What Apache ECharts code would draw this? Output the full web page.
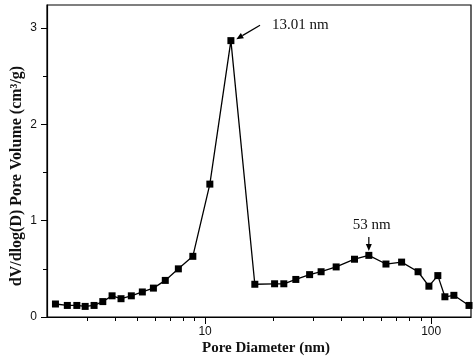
<!DOCTYPE html>
<html>
<head>
<meta charset="utf-8">
<script src="https://cdn.jsdelivr.net/npm/echarts@6/dist/echarts.min.js"></script>
<style>html,body{margin:0;padding:0;background:#fff}#c{width:474px;height:361px}</style>
</head>
<body>
<div id="c"></div>
<script>
// Pore diameter (nm)
var diameters = [2.18, 2.46, 2.71, 2.95, 3.23, 3.53, 3.88, 4.25, 4.72, 5.28, 5.91, 6.67, 7.62, 8.83,
  10.5, 13.01, 16.6, 20.3, 22.3, 25.2, 29.0, 32.6, 38.0, 45.8, 53.0, 63.1, 74.0, 87.5, 97.7, 107, 115, 126, 147];
// dV/dlog(D) pore volume (cm3/g)
var volumes = [0.135, 0.12, 0.12, 0.11, 0.12, 0.16, 0.22, 0.19, 0.22, 0.26, 0.30, 0.38, 0.50, 0.63,
  1.38, 2.87, 0.34, 0.345, 0.345, 0.39, 0.44, 0.47, 0.52, 0.60, 0.64, 0.55, 0.57, 0.47, 0.32, 0.43, 0.21, 0.225, 0.12];
var xMajorTicks = [10, 100];
var xMinorTicks = [3, 4, 5, 6, 7, 8, 9, 20, 30, 40, 50, 60, 70, 80, 90];
var yTicks = [0, 1, 2, 3];
// annotation arrows: [from, to] in data coordinates
var arrows = [
  [[17.5, 3.03], [13.75, 2.885]],
  [[53.0, 0.83], [53.0, 0.685]]
];

var serif = '"Liberation Serif","Times New Roman",serif';
var sans = '"Liberation Sans",Arial,sans-serif';

var chart = echarts.init(document.getElementById('c'), null, {renderer: 'canvas'});
var data = diameters.map(function (d, i) { return [d, volumes[i]]; });

chart.setOption({
  animation: false,
  backgroundColor: '#fff',
  grid: {left: 47, top: 5, right: 3, bottom: 44, show: true, borderColor: '#000', borderWidth: 1.2, containLabel: false},
  xAxis: [{
    type: 'log', logBase: 10, min: 2, max: 150,
    axisLine: {show: true, onZero: false, lineStyle: {color: '#000', width: 1.2}},
    axisTick: {show: true, inside: false, length: 7, customValues: xMajorTicks, lineStyle: {color: '#000', width: 1}},
    axisLabel: {show: true, customValues: xMajorTicks, margin: 9, color: '#111', fontFamily: sans, fontSize: 12},
    splitLine: {show: false}
  }, {
    type: 'log', logBase: 10, min: 2, max: 150, position: 'bottom',
    axisLine: {show: false},
    axisTick: {show: true, inside: false, length: 4, customValues: xMinorTicks, lineStyle: {color: '#000', width: 1}},
    axisLabel: {show: false},
    splitLine: {show: false}
  }],
  yAxis: {
    type: 'value', min: 0, max: 3.24, interval: 1,
    axisLine: {show: true, lineStyle: {color: '#000', width: 1.2}},
    axisTick: {show: true, inside: false, length: 6, customValues: yTicks, lineStyle: {color: '#000', width: 1}},
    minorTick: {show: true, splitNumber: 2, length: 4, lineStyle: {color: '#000', width: 1}},
    axisLabel: {customValues: yTicks, margin: 10, color: '#111', fontFamily: sans, fontSize: 12},
    splitLine: {show: false}
  },
  series: [{
    type: 'line',
    data: data,
    symbol: 'rect',
    symbolSize: 7,
    lineStyle: {color: '#000', width: 1.3},
    itemStyle: {color: '#000'},
    markPoint: {
      symbol: 'circle', symbolSize: 0,
      label: {show: true, color: '#111', fontFamily: serif, fontSize: 15, align: 'left', verticalAlign: 'middle'},
      data: [
        {coord: [13.01, 2.87], label: {formatter: '13.01 nm', position: [41, -16], align: 'left'}},
        {coord: [53.0, 0.64], label: {formatter: '53 nm', position: [3, -30], align: 'center'}}
      ]
    }
  }]
});

// Build arrow graphics from data coordinates
var g = [
  {type: 'text', x: 17, y: 176, rotation: Math.PI / 2,
    style: {text: 'dV/dlog(D) Pore Volume (cm\u00b3/g)', textAlign: 'center', textVerticalAlign: 'middle',
      font: 'bold 16px ' + serif, fill: '#111'}},
  {type: 'text', x: 266, y: 348,
    style: {text: 'Pore Diameter (nm)', textAlign: 'center', textVerticalAlign: 'middle',
      font: 'bold 15px ' + serif, fill: '#111'}}
];
arrows.forEach(function (a) {
  var p0 = chart.convertToPixel({gridIndex: 0}, a[0]);
  var p1 = chart.convertToPixel({gridIndex: 0}, a[1]);
  var dx = p1[0] - p0[0], dy = p1[1] - p0[1];
  var len = Math.sqrt(dx * dx + dy * dy);
  var ux = dx / len, uy = dy / len;
  var hl = 7, hw = 3;
  var bx = p1[0] - ux * hl, by = p1[1] - uy * hl;
  g.push({type: 'line', shape: {x1: p0[0], y1: p0[1], x2: bx, y2: by}, style: {stroke: '#000', lineWidth: 1.2}});
  g.push({type: 'polygon', shape: {points: [[p1[0], p1[1]], [bx - uy * hw, by + ux * hw], [bx + uy * hw, by - ux * hw]]},
    style: {fill: '#000'}});
});
chart.setOption({graphic: g});
</script>
</body>
</html>
